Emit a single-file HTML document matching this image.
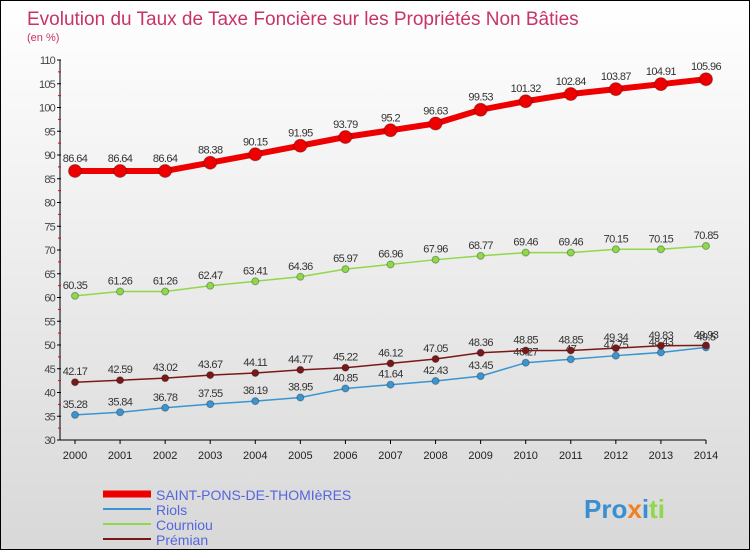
<!DOCTYPE html>
<html><head><meta charset="utf-8"><style>
body{margin:0;width:750px;height:550px;overflow:hidden;font-family:"Liberation Sans",sans-serif}
#wrap{position:relative;width:748px;height:548px;border:1px solid #000;background:linear-gradient(#fff,#d8d8d8)}
</style></head><body>
<div id="wrap">
<svg id="chart" width="748" height="548"></svg>
</div>
<script>
const years=[2000,2001,2002,2003,2004,2005,2006,2007,2008,2009,2010,2011,2012,2013,2014];
const saint=[86.64,86.64,86.64,88.38,90.15,91.95,93.79,95.2,96.63,99.53,101.32,102.84,103.87,104.91,105.96];
const riols=[35.28,35.84,36.78,37.55,38.19,38.95,40.85,41.64,42.43,43.45,46.27,47,47.75,48.43,49.5];
const courniou=[60.35,61.26,61.26,62.47,63.41,64.36,65.97,66.96,67.96,68.77,69.46,69.46,70.15,70.15,70.85];
const premian=[42.17,42.59,43.02,43.67,44.11,44.77,45.22,46.12,47.05,48.36,48.85,48.85,49.34,49.83,49.93];
const yTicks=[30,35,40,45,50,55,60,65,70,75,80,85,90,95,100,105,110];
const NS='http://www.w3.org/2000/svg';
const svg=document.getElementById('chart');
const X=i=>74+i*45.07;
const Y=v=>439-(v-30)*4.75;
function el(t,a,name,parent){const e=document.createElementNS(NS,t);for(const k in a)e.setAttribute(k,a[k]);


(parent||svg).appendChild(e);return e;}
function txt(x,y,s,a,name){const e=el('text',Object.assign({x:x,y:y},a),name);e.textContent=s;return e;}
txt(26,24,'Evolution du Taux de Taxe Foncière sur les Propriétés Non Bâties',{fill:'#c8336a','font-size':19},'chart-title');
txt(26,40,'(en %)',{fill:'#c8336a','font-size':11},'y-unit-label');
el('line',{x1:59,y1:Y(110),x2:59,y2:Y(30),stroke:'#000'},'y-axis');
el('line',{x1:59,y1:Y(30),x2:X(14),y2:Y(30),stroke:'#000'},'x-axis');
yTicks.forEach(v=>{el('line',{x1:56,y1:Y(v),x2:60,y2:Y(v),stroke:'#000'},'y-tick');
txt(54,Y(v)+4,String(v),{'text-anchor':'end','font-size':11,fill:'#444','letter-spacing':'-0.8'},'y-tick-label');
if(v<110)el('line',{x1:57,y1:Y(v+2.5),x2:60,y2:Y(v+2.5),stroke:'#e00'},'y-minor-tick');});
years.forEach((y,i)=>{el('line',{x1:X(i),y1:Y(30),x2:X(i),y2:Y(30)+4,stroke:'#000'},'x-tick');
txt(X(i),Y(30)+19,String(y),{'text-anchor':'middle','font-size':11,fill:'#222'},'x-tick-label');});
function series(data,color,w,r,name,dy){
el('polyline',{points:data.map((v,i)=>X(i)+','+Y(v)).join(' '),fill:'none',stroke:color,'stroke-width':w},name+'-line');
data.forEach((v,i)=>{el('circle',{cx:X(i),cy:Y(v),r:r,fill:color,stroke:'rgba(0,0,0,0.3)'},name+'-point');
txt(X(i),Y(v)-dy,String(v),{'text-anchor':'middle','font-size':11,fill:'#333','letter-spacing':'-0.6'},name+'-value-label');});}
series(saint,'#ee0000',6,6.5,'saint-pons',9);
series(courniou,'#8ed84a',1.5,3.5,'courniou',7);
series(riols,'#3a95d0',1.5,3.5,'riols',7);
series(premian,'#7a1818',1.5,3.5,'premian',7);
const leg=[['SAINT-PONS-DE-THOMIèRES','#ee0000',7],['Riols','#3a95d0',2],['Courniou','#8ed84a',2],['Prémian','#7a1818',2]];
leg.forEach((l,i)=>{const y=493+i*15;
el('line',{x1:102,y1:y,x2:150,y2:y,stroke:l[1],'stroke-width':l[2]},'legend-swatch');
txt(155,y+6,l[0],{'font-size':14,fill:'#5566dd'},'legend-entry');});
const p=txt(583,517,'',{'font-size':26,'font-weight':'bold'},'proxiti-logo');
p.innerHTML='<tspan fill="#3a8fd0">Pro</tspan><tspan fill="#f08020">x</tspan><tspan fill="#3a8fd0">i</tspan><tspan fill="#8ed84a">ti</tspan>';
</script>
</body></html>
